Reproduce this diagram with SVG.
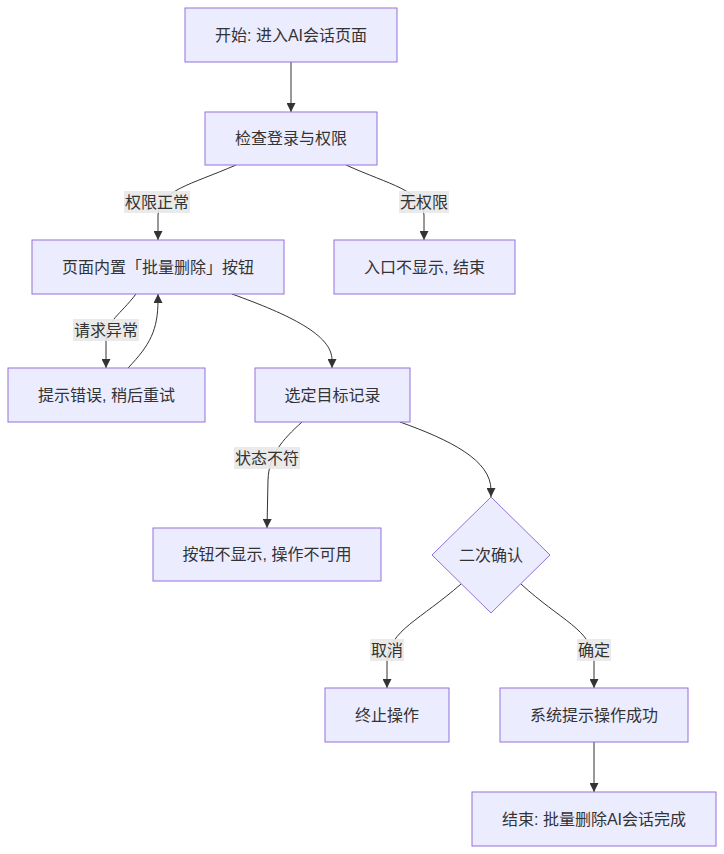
<svg xmlns="http://www.w3.org/2000/svg" width="724" height="854" viewBox="0 0 724 854">
<defs>
<marker id="arr" viewBox="0 0 10 10" refX="10" refY="5" markerWidth="9" markerHeight="9" markerUnits="userSpaceOnUse" orient="auto">
<path d="M0,0 L10,5 L0,10 z" fill="#333333"/>
</marker>
<style>
.n{fill:#ECECFF;stroke:#9370DB;stroke-width:1}
.t{font-family:"Liberation Sans","Noto Sans CJK SC",sans-serif;font-size:16px;fill:#333333;text-anchor:middle;dominant-baseline:central}
.e{fill:none;stroke:#333333;stroke-width:1;marker-end:url(#arr)}
.lb{fill:#e8e8e8;opacity:0.9}
</style>
</defs>
<rect width="724" height="854" fill="#ffffff"/>
<g id="edges">
<path class="e" d="M291,62 L291,112"/>
<path class="e" d="M236,165 C190,185 160,190 158,215 L158,240"/>
<path class="e" d="M346,165 C390,185 422,190 424,215 L424,240"/>
<path class="e" d="M136,294 C120,315 107,320 106,340 L106,368"/>
<path class="e" d="M128,368 C150,345 158,330 158,300 L158,294"/>
<path class="e" d="M232,294 C290,315 332,335 332,360 L332,368"/>
<path class="e" d="M302,422 C282,440 269,455 268,480 L267,528"/>
<path class="e" d="M400,422 C450,440 491,460 491,490 L491,497"/>
<path class="e" d="M461,584 C420,620 390,630 387,660 L387,688"/>
<path class="e" d="M521,584 C560,620 592,630 594,660 L594,688"/>
<path class="e" d="M594,742 L594,792"/>
</g>
<g id="edge-labels">
<rect class="lb" x="124" y="191" width="66" height="22"/><text class="t" x="157" y="202">权限正常</text>
<rect class="lb" x="399" y="191" width="50" height="22"/><text class="t" x="424" y="202">无权限</text>
<rect class="lb" x="73" y="319" width="66" height="22"/><text class="t" x="106" y="330">请求异常</text>
<rect class="lb" x="234" y="447" width="66" height="22"/><text class="t" x="267" y="458">状态不符</text>
<rect class="lb" x="370" y="639" width="34" height="22"/><text class="t" x="387" y="650">取消</text>
<rect class="lb" x="577" y="639" width="34" height="22"/><text class="t" x="594" y="650">确定</text>
</g>
<g id="n1"><rect class="n" x="185" y="8" width="212" height="54"/><text class="t" x="291" y="35">开始: 进入AI会话页面</text></g>
<g id="n2"><rect class="n" x="205" y="112" width="172" height="53"/><text class="t" x="291" y="138">检查登录与权限</text></g>
<g id="n3"><rect class="n" x="32" y="240" width="252" height="54"/><text class="t" x="158" y="267">页面内置「批量删除」按钮</text></g>
<g id="n4"><rect class="n" x="334" y="240" width="181" height="54"/><text class="t" x="424.5" y="267">入口不显示, 结束</text></g>
<g id="n5"><rect class="n" x="8" y="368" width="197" height="54"/><text class="t" x="106.5" y="395">提示错误, 稍后重试</text></g>
<g id="n6"><rect class="n" x="255" y="368" width="155" height="54"/><text class="t" x="332.5" y="395">选定目标记录</text></g>
<g id="n7"><rect class="n" x="153" y="528" width="228" height="53"/><text class="t" x="267" y="554.5">按钮不显示, 操作不可用</text></g>
<g id="n8"><polygon class="n" points="491,497 550,555 491,613 432,555"/><text class="t" x="491" y="555">二次确认</text></g>
<g id="n9"><rect class="n" x="325" y="688" width="124" height="54"/><text class="t" x="387" y="715">终止操作</text></g>
<g id="n10"><rect class="n" x="500" y="688" width="188" height="54"/><text class="t" x="594" y="715">系统提示操作成功</text></g>
<g id="n11"><rect class="n" x="472" y="792" width="244" height="54"/><text class="t" x="594" y="819">结束: 批量删除AI会话完成</text></g>
</svg>
